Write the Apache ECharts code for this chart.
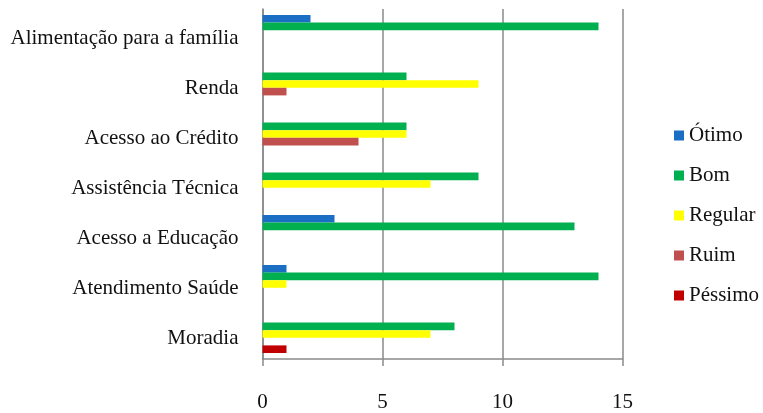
<!DOCTYPE html>
<html>
<head>
<meta charset="utf-8">
<script src="https://cdn.jsdelivr.net/npm/echarts@6/dist/echarts.min.js"></script>
<style>
  html, body { margin: 0; padding: 0; background: #fff; }
  #chart { width: 763px; height: 413px; }
</style>
</head>
<body>
<div id="chart"></div>
<script>
// Avaliação dos serviços por categoria
const categories = [
  'Alimentação para a família',
  'Renda',
  'Acesso ao Crédito',
  'Assistência Técnica',
  'Acesso a Educação',
  'Atendimento Saúde',
  'Moradia'
];
const seriesNames = ['Ótimo', 'Bom', 'Regular', 'Ruim', 'Péssimo'];
const otimo   = [2, 0, 0, 0, 3, 1, 0];
const bom     = [14, 6, 6, 9, 13, 14, 8];
const regular = [0, 9, 6, 7, 0, 1, 7];
const ruim    = [0, 1, 4, 0, 0, 0, 0];
const pessimo = [0, 0, 0, 0, 0, 0, 1];
const xTicks = [0, 5, 10, 15];

const colors = ['#1a6fc4', '#00b050', '#ffff00', '#c0504d', '#c00000'];
const values = [otimo, bom, regular, ruim, pessimo];
const font = '"Liberation Serif", "Times New Roman", serif';
const gray = '#8a8a8a';

const chart = echarts.init(document.getElementById('chart'), null, { renderer: 'canvas' });
chart.setOption({
  animation: false,
  backgroundColor: '#fff',
  textStyle: { fontFamily: font },
  grid: { left: 262.5, right: 140.5, top: 9, bottom: 54, containLabel: false },
  legend: {
    orient: 'vertical',
    left: 674,
    top: 125,
    padding: 0,
    itemWidth: 10,
    itemHeight: 10,
    itemGap: 19,
    icon: 'rect',
    textStyle: { fontFamily: font, fontSize: 21, color: '#111' },
    data: seriesNames
  },
  xAxis: {
    type: 'value',
    min: xTicks[0],
    max: xTicks[xTicks.length - 1],
    interval: xTicks[1] - xTicks[0],
    axisLine: { show: true, lineStyle: { color: gray, width: 1.5 } },
    axisTick: { show: true, length: 7, lineStyle: { color: gray, width: 1.5 } },
    axisLabel: { fontFamily: font, fontSize: 21, color: '#111', margin: 33 },
    splitLine: { show: true, lineStyle: { color: gray, width: 1.5 } }
  },
  yAxis: {
    type: 'category',
    inverse: true,
    data: categories,
    axisLine: { show: true, lineStyle: { color: gray, width: 1.5 } },
    axisTick: { show: false },
    axisLabel: {
      fontFamily: font, fontSize: 21, color: '#111', margin: 24,
      verticalAlign: 'top', lineHeight: 8
    },
    splitLine: { show: false }
  },
  series: seriesNames.map((name, i) => ({
    name: name,
    type: 'bar',
    data: values[i],
    itemStyle: { color: colors[i] },
    barGap: '0%',
    barCategoryGap: '24%'
  }))
});
</script>
</body>
</html>
